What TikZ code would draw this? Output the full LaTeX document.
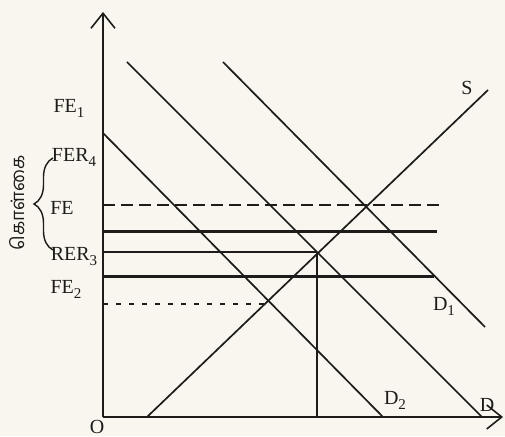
\documentclass[tikz,border=0pt]{standalone}
\usepackage{fontspec}
\setmainfont{Liberation Serif}
\newfontfamily\tamilfont[Script=Tamil]{Hind Madurai}
\usetikzlibrary{arrows.meta,decorations.pathreplacing}
\definecolor{ink}{RGB}{30,28,26}
\definecolor{paper}{RGB}{248,246,238}
\newcommand\lowsub[1]{\raisebox{-0.55ex}{\fontsize{15}{15}\selectfont #1}}
\tikzset{
  axis/.style={draw=ink,line width=1.8pt,-{Straight Barb[length=15pt,width=24pt,line width=1.6pt]}},
  curve/.style={draw=ink,line width=1.7pt},
  level/.style={draw=ink,line width=2pt},
  thicklevel/.style={draw=ink,line width=3pt},
  dashlevel/.style={draw=ink,line width=1.8pt,dash pattern=on 12pt off 6pt},
  dotlevel/.style={draw=ink,line width=2.4pt,dash pattern=on 5pt off 8pt},
  lbl/.style={text=ink,font=\fontsize{20}{22}\selectfont,inner sep=0pt}
}
\begin{document}
\begin{tikzpicture}[x=1pt,y=1pt]
\fill[paper] (0,0) rectangle (505,436);
\useasboundingbox (0,0) rectangle (505,436);
% axes
\coordinate (O) at (103,19);
\coordinate (ytop) at (103,424);
\coordinate (xend) at (503,19);
\draw[axis] (O) -- (ytop);
\draw[axis] (O) -- (xend);
% demand and supply lines
\coordinate (A1) at (103,303); \coordinate (A2) at (383,19);
\coordinate (B1) at (127,374); \coordinate (B2) at (482,19);
\coordinate (C1) at (223,374); \coordinate (C2) at (485,109);
\coordinate (S1) at (147,19);  \coordinate (S2) at (488,346);
\draw[curve] (A1) -- (A2);
\draw[curve] (B1) -- (B2);
\draw[curve] (C1) -- (C2);
\draw[curve] (S1) -- (S2);
% levels
\coordinate (h1a) at (103,231); \coordinate (h1b) at (440,231);
\coordinate (h2a) at (103,204); \coordinate (h2b) at (437,204);
\coordinate (h3a) at (103,184); \coordinate (h3b) at (317,184);
\coordinate (h4a) at (103,159); \coordinate (h4b) at (434,159);
\coordinate (h5a) at (103,132); \coordinate (h5b) at (266,132);
\coordinate (vfoot) at (317,19);
\draw[dashlevel] (h1a) -- (h1b);
\draw[thicklevel] (h2a) -- (h2b);
\draw[level] (h3a) -- (h3b);
\draw[thicklevel] (h4a) -- (h4b);
\draw[dotlevel] (h5a) -- (h5b);
\draw[level] (h3b) -- (vfoot);
% labels
\node[lbl] (fe1) at (69,328) {FE\lowsub{1}};
\node[lbl] (fer4) at (74,279) {FER\lowsub{4}};
\node[lbl] (fe) at (62,228) {FE};
\node[lbl] (rer3) at (74,179) {RER\lowsub{3}};
\node[lbl] (fe2) at (66,147) {FE\lowsub{2}};
\node[lbl] (s) at (467,348) {S};
\node[lbl] (d1) at (444,130) {D\lowsub{1}};
\node[lbl] (d2) at (395,36) {D\lowsub{2}};
\node[lbl] (d) at (487,31) {D};
\node[lbl] (o) at (97,9) {O};
\coordinate (br1) at (53,186);
\coordinate (br2) at (53,278);
\draw[ink,line width=1.4pt,decorate,decoration={brace,amplitude=19pt,aspect=0.5}] (br1) -- (br2);
\node[lbl,rotate=90,font=\tamilfont\fontsize{18.5}{20}\selectfont] (tam) at (17,233) {கொள்கை};
\end{tikzpicture}
\end{document}
